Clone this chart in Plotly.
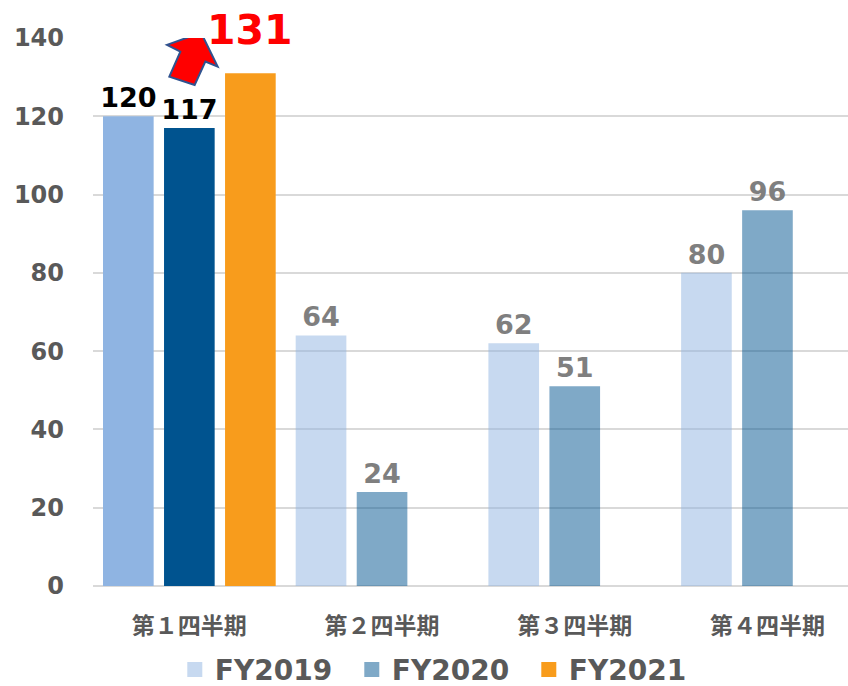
import plotly.graph_objects as go

categories = ["第１四半期", "第２四半期", "第３四半期", "第４四半期"]
fy2019 = [120, 64, 62, 80]
fy2020 = [117, 24, 51, 96]
fy2021 = [131, None, None, None]
series_names = ["FY2019", "FY2020", "FY2021"]
y_ticks = [0, 20, 40, 60, 80, 100, 120, 140]

# Colours
c19_strong, c19_light = "rgb(143,180,226)", "rgba(143,180,226,0.5)"
c20_strong, c20_light = "rgb(0,83,143)", "rgba(0,83,143,0.5)"
c21 = "rgb(248,156,28)"
gray_txt = "#595959"
lab_gray = "#7F7F7F"

num_font = "DejaVu Sans"
cjk_font = "Noto Sans CJK JP"

def colors(strong, light):
    return [strong] + [light] * (len(categories) - 1)

def lab_colors():
    return ["#000000"] + [lab_gray] * (len(categories) - 1)

def texts(vals):
    return ["" if v is None else str(v) for v in vals]

fig = go.Figure()
fig.add_trace(go.Bar(
    x=categories, y=fy2019, name=series_names[0],
    marker=dict(color=colors(c19_strong, c19_light), line=dict(width=0)),
    text=texts(fy2019), textposition="outside", constraintext="none",
    textfont=dict(family=num_font, size=27, color=lab_colors(), weight="bold"),
    cliponaxis=False, showlegend=False))
fig.add_trace(go.Bar(
    x=categories, y=fy2020, name=series_names[1],
    marker=dict(color=colors(c20_strong, c20_light), line=dict(width=0)),
    text=texts(fy2020), textposition="outside", constraintext="none",
    textfont=dict(family=num_font, size=27, color=lab_colors(), weight="bold"),
    cliponaxis=False, showlegend=False))
fig.add_trace(go.Bar(
    x=categories, y=fy2021, name=series_names[2],
    marker=dict(color=c21, line=dict(width=0)),
    cliponaxis=False, showlegend=False))

# legend-only entries (square markers)
for nm, col in [(series_names[0], c19_light), (series_names[1], c20_light), (series_names[2], c21)]:
    fig.add_trace(go.Scatter(x=[categories[0]], y=[None], name=nm, mode="markers",
                             marker=dict(symbol="square", size=15, color=col, line=dict(width=0)),
                             showlegend=True))

# highlight label for FY2021 Q1
fig.add_annotation(x=categories[0], y=fy2021[0], xref="x", yref="y",
                   text=str(fy2021[0]), showarrow=False, xshift=61, yshift=43,
                   yanchor="middle", xanchor="center",
                   font=dict(family=num_font, size=41, color="#FF0000", weight="bold"))

# block arrow (decorative) anchored to Q1 / FY2021 value
arrow_pts = [(11.7, 40.6), (28.3, 6.6), (16, 11.6), (5.3, -11.7), (-20, -3.4), (-9, 21.6), (-22.3, 28.3)]
path = "M " + " L ".join(f"{x},{y}" for x, y in arrow_pts) + " Z"
fig.add_shape(type="path", xref="x", yref="y", xsizemode="pixel", ysizemode="pixel",
              xanchor=categories[0], yanchor=fy2021[0], path=path,
              fillcolor="#FF0000", line=dict(color="#2F528F", width=2), layer="above")

fig.update_layout(
    width=848, height=686,
    margin=dict(l=93, r=0, t=38, b=100, autoexpand=False),
    paper_bgcolor="white", plot_bgcolor="white",
    barmode="group", bargap=0.05, bargroupgap=0.17,
    hovermode=False,
    legend=dict(orientation="h", x=0.46, xanchor="center", y=-0.153, yanchor="middle",
                font=dict(family=num_font, size=28, color=gray_txt, weight="bold"),
                itemwidth=30, entrywidth=132, bgcolor="rgba(0,0,0,0)"),
    xaxis=dict(range=[-0.5, 3.418], showgrid=False, showline=False, ticks="",
               tickfont=dict(family=cjk_font, size=23, color=gray_txt, weight="bold"),
               ticklabelstandoff=24, automargin=False),
    yaxis=dict(range=[0, 140], tickvals=y_ticks, showgrid=True, gridcolor="#D9D9D9", gridwidth=1.5,
               zeroline=True, zerolinecolor="#D9D9D9", zerolinewidth=2, showline=False, ticks="",
               tickfont=dict(family=num_font, size=24, color=gray_txt, weight="bold"),
               ticklabelstandoff=28, automargin=False),
)

fig.write_html("out.html", config={"displayModeBar": False},
               post_script="document.body.style.margin='0px';document.body.style.overflow='hidden';")
